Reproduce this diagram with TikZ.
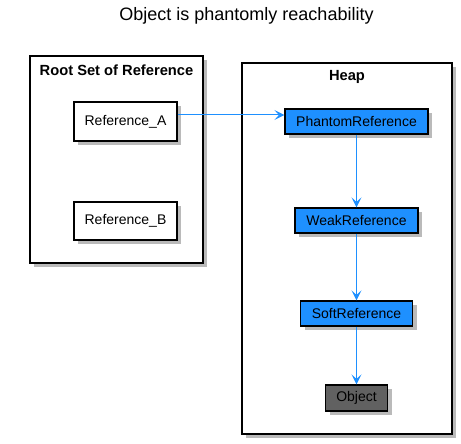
\documentclass[tikz,border=0pt]{standalone}
\usepackage{fontspec}
\setmainfont{Liberation Sans}
\usetikzlibrary{shadows,arrows.meta}
\definecolor{ublue}{HTML}{1E90FF}
\definecolor{objgray}{HTML}{616161}
\tikzset{
  x=1pt, y=-1pt,
  shad/.style={drop shadow={shadow xshift=4pt, shadow yshift=-4pt, opacity=0.45, fill=black!60}},
  pkg/.style={draw=black, line width=1.4pt, fill=white, shad, inner sep=0pt},
  refbox/.style={draw=black, line width=1.2pt, fill=white, shad, inner sep=0pt, font=\fontsize{14}{16}\selectfont},
  heapbox/.style={draw=black, line width=1.2pt, fill=ublue, shad, inner sep=0pt, font=\fontsize{14}{16}\selectfont},
  objbox/.style={draw=black, line width=1.2pt, fill=objgray, shad, inner sep=0pt, font=\fontsize{14}{16}\selectfont},
  ptitle/.style={font=\fontsize{14.7}{16}\selectfont\bfseries, inner sep=0pt},
  conn/.style={draw=ublue, line width=1pt, -{Stealth[length=10pt, width=10pt, inset=4.5pt]}}
}
\begin{document}
\begin{tikzpicture}
\useasboundingbox (0,0) rectangle (461,444);
\node[font=\fontsize{18}{20}\selectfont, inner sep=0pt] (title) at (246.5,16) {Object is phantomly reachability};
% packages
\node[pkg, minimum width=173pt, minimum height=207pt] (root) at (116.5,159.5) {};
\node[ptitle] (roottitle) at (116.5,70) {Root Set of Reference};
\node[pkg, minimum width=210pt, minimum height=371pt] (heap) at (347,248.5) {};
\node[ptitle] (heaptitle) at (347,77) {Heap};
% nodes
\node[refbox, minimum width=103pt, minimum height=39pt] (refA) at (125.5,121.5) {Reference\_A};
\node[refbox, minimum width=103pt, minimum height=38pt] (refB) at (125.5,221) {Reference\_B};
\node[heapbox, minimum width=143pt, minimum height=25pt] (phantom) at (356.5,121.5) {PhantomReference};
\node[heapbox, minimum width=123pt, minimum height=25pt] (weak) at (356.5,220.5) {WeakReference};
\node[heapbox, minimum width=112pt, minimum height=25pt] (soft) at (356.5,313.5) {SoftReference};
\node[objbox, minimum width=62pt, minimum height=26pt] (obj) at (356.5,398) {Object};
% connectors
\draw[conn] ([yshift=6.5pt]refA.east) -- ([yshift=6.5pt]phantom.west);
\draw[conn] (phantom.south) -- (weak.north);
\draw[conn] (weak.south) -- (soft.north);
\draw[conn] (soft.south) -- (obj.north);
\end{tikzpicture}
\end{document}
